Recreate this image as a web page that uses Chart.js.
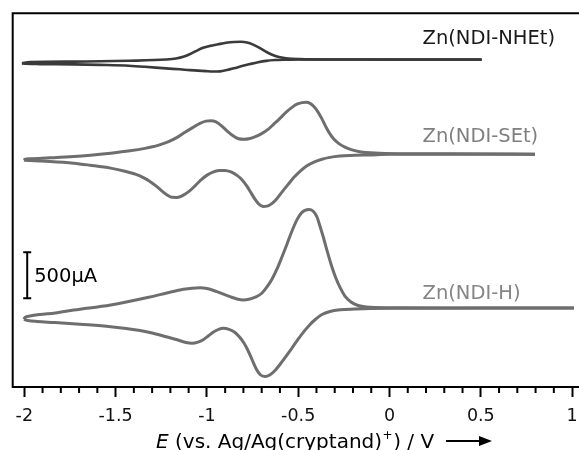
<!DOCTYPE html>
<html>
<head>
<meta charset="utf-8">
<script src="https://cdn.jsdelivr.net/npm/chart.js@4.4.1/dist/chart.umd.min.js"></script>
<style>
  html, body { margin: 0; padding: 0; background: #fff; overflow: hidden; }
  #wrap { position: absolute; left: 0; top: 0; width: 640px; height: 450px; }
</style>
</head>
<body>
<div id="wrap"><canvas id="cv"></canvas></div>
<script>
const FONT = "'DejaVu Sans', sans-serif";

// potential E (V) and current I (µA)
// each loop: cathodic sweep (right -> left), then anodic sweep back (left -> right)
const hCathE = [1.010, 0.496, 0.058, -0.107, -0.189, -0.271, -0.326, -0.370, -0.403, -0.435, -0.468, -0.501, -0.534, -0.567, -0.600, -0.627, -0.654, -0.682, -0.709, -0.731, -0.753, -0.775, -0.797, -0.819, -0.846, -0.879, -0.910, -0.936, -0.964, -0.991, -1.018, -1.049, -1.082, -1.120, -1.158, -1.224, -1.312, -1.366, -1.527, -1.695, -1.832, -1.930, -1.980, -2.002];
const hCathI = [0, 0, -3, -5, -11, -20, -38, -71, -120, -179, -255, -342, -435, -527, -614, -679, -726, -745, -723, -658, -560, -462, -381, -321, -266, -232, -221, -232, -261, -302, -342, -372, -384, -373, -348, -312, -266, -245, -203, -177, -158, -147, -136, -123];
const hAnE = [-1.996, -1.969, -1.914, -1.830, -1.729, -1.527, -1.312, -1.220, -1.129, -1.038, -0.999, -0.946, -0.873, -0.835, -0.801, -0.764, -0.731, -0.698, -0.671, -0.643, -0.616, -0.589, -0.561, -0.534, -0.507, -0.485, -0.463, -0.441, -0.419, -0.397, -0.381, -0.361, -0.340, -0.318, -0.296, -0.271, -0.244, -0.211, -0.172, -0.107, 0.058, 0.496, 1.010];
const hAnI = [-103, -87, -71, -54, -22, 33, 120, 163, 204, 221, 212, 177, 123, 98, 87, 98, 120, 163, 228, 315, 424, 554, 696, 837, 957, 1027, 1060, 1071, 1054, 989, 891, 761, 609, 462, 337, 223, 130, 65, 27, 8, 2, 0, 0];

const setCathE = [0.797, 0.331, 0.003, -0.107, -0.216, -0.271, -0.326, -0.370, -0.414, -0.452, -0.490, -0.523, -0.555, -0.588, -0.616, -0.643, -0.671, -0.692, -0.714, -0.736, -0.758, -0.780, -0.807, -0.835, -0.868, -0.901, -0.934, -0.967, -0.999, -1.032, -1.065, -1.098, -1.131, -1.163, -1.191, -1.218, -1.246, -1.279, -1.312, -1.345, -1.388, -1.449, -1.527, -1.640, -1.729, -1.859, -1.969, -2.002];
const setCathI = [-3, -3, -5, -11, -17, -24, -38, -58, -90, -130, -190, -255, -332, -413, -484, -538, -568, -571, -549, -495, -424, -353, -283, -234, -196, -180, -182, -199, -231, -283, -348, -408, -451, -473, -472, -446, -405, -348, -299, -261, -223, -188, -155, -123, -101, -82, -73, -68];
const setAnE = [-1.998, -1.969, -1.859, -1.729, -1.527, -1.421, -1.339, -1.268, -1.213, -1.163, -1.120, -1.076, -1.038, -1.005, -0.978, -0.950, -0.923, -0.890, -0.857, -0.827, -0.797, -0.764, -0.731, -0.698, -0.665, -0.635, -0.600, -0.567, -0.534, -0.507, -0.479, -0.457, -0.435, -0.414, -0.392, -0.370, -0.348, -0.326, -0.304, -0.277, -0.244, -0.205, -0.162, -0.079, 0.058, 0.331, 0.797];
const setAnI = [-60, -52, -43, -29, 8, 33, 60, 92, 130, 179, 234, 288, 332, 356, 361, 348, 310, 250, 196, 165, 159, 168, 190, 223, 266, 321, 386, 451, 505, 540, 557, 560, 549, 516, 457, 380, 293, 217, 158, 111, 73, 43, 24, 9, 2, 0, -3];

const nhCathE = [0.505, 0.058, -0.326, -0.490, -0.572, -0.627, -0.676, -0.720, -0.764, -0.808, -0.852, -0.890, -0.928, -0.967, -1.005, -1.049, -1.093, -1.147, -1.224, -1.339, -1.427, -1.586, -1.729, -1.914, -1.990, -2.013];
const nhCathI = [-1, -1, 1, 2, -1, -5, -14, -29, -49, -71, -95, -114, -128, -130, -126, -120, -115, -106, -96, -78, -67, -58, -52, -49, -46, -41];
const nhAnE = [-1.969, -1.729, -1.427, -1.224, -1.169, -1.125, -1.087, -1.054, -1.021, -0.983, -0.939, -0.895, -0.852, -0.813, -0.780, -0.747, -0.714, -0.682, -0.649, -0.611, -0.567, -0.490, -0.315, 0.058, 0.505];
const nhAnI = [-27, -22, -13, 0, 11, 33, 65, 98, 128, 149, 166, 182, 191, 193, 185, 163, 130, 92, 58, 30, 14, 5, 1, 0, 0];

const curveNames = ["Zn(NDI-NHEt)", "Zn(NDI-SEt)", "Zn(NDI-H)"];
const xTickLabels = ["-2", "-1.5", "-1", "-0.5", "0", "0.5", "1"];
const scaleBarValue = 500; // µA

// vertical stacking of the three curves (µA)
const offsets = { nh: 2700, set: 1675, h: 0 };

// returns [cathodic branch, anodic branch], the anodic one starting at the turning point
function branches(eA, iA, eB, iB, off) {
  const a = eA.map((e, k) => ({ x: e, y: iA[k] + off }));
  const b = eB.map((e, k) => ({ x: e, y: iB[k] + off }));
  b.unshift(a[a.length - 1]);
  return [a, b];
}

function isMajor(v) {
  return Math.abs(v * 2 - Math.round(v * 2)) < 1e-6;
}

function tickText(v) {
  const s = String(Number(v.toFixed(1)));
  return xTickLabels.includes(s) ? s : "";
}

const decor = {
  id: "decor",
  afterDraw(chart) {
    const { ctx, chartArea: a, scales } = chart;
    const x = scales.x, y = scales.y;
    ctx.save();

    // frame
    ctx.strokeStyle = "#000";
    ctx.lineWidth = 2;
    ctx.lineCap = "square";
    ctx.beginPath();
    ctx.moveTo(a.right, a.bottom);
    ctx.lineTo(a.left, a.bottom);
    ctx.lineTo(a.left, a.top);
    ctx.lineTo(a.right, a.top);
    ctx.lineTo(a.right, a.bottom);
    ctx.stroke();

    // minor ticks
    ctx.lineCap = "butt";
    ctx.beginPath();
    x.ticks.forEach(t => {
      if (isMajor(t.value)) return;
      const px = x.getPixelForValue(t.value);
      ctx.moveTo(px, a.bottom);
      ctx.lineTo(px, a.bottom + 6);
    });
    ctx.stroke();

    // scale bar
    const bx = x.getPixelForValue(-1.984);
    const b0 = y.getPixelForValue(105);
    const b1 = y.getPixelForValue(105 + scaleBarValue);
    ctx.beginPath();
    ctx.moveTo(bx, b0); ctx.lineTo(bx, b1);
    ctx.moveTo(bx - 4, b0); ctx.lineTo(bx + 4, b0);
    ctx.moveTo(bx - 4, b1); ctx.lineTo(bx + 4, b1);
    ctx.stroke();
    ctx.fillStyle = "#000";
    ctx.font = "19.5px " + FONT;
    ctx.textAlign = "left";
    ctx.textBaseline = "alphabetic";
    ctx.fillText(scaleBarValue + "µA", bx + 7, (b0 + b1) / 2 + 7);

    // curve labels
    const lx = x.getPixelForValue(0.181);
    const labelColors = ["#1a1a1a", "#7f7f7f", "#858585"];
    const labelVals = [2946, 1880, 179];
    curveNames.forEach((name, k) => {
      ctx.fillStyle = labelColors[k];
      ctx.fillText(name, lx, y.getPixelForValue(labelVals[k]) + 7);
    });

    // axis title
    const base = 447.5;
    let tx = 156;
    ctx.fillStyle = "#000";
    ctx.font = "italic 20px " + FONT;
    ctx.fillText("E", tx, base);
    tx += ctx.measureText("E").width;
    ctx.font = "20px " + FONT;
    const part1 = " (vs. Ag/Ag(cryptand)";
    ctx.fillText(part1, tx, base);
    tx += ctx.measureText(part1).width;
    ctx.font = "12px " + FONT;
    ctx.fillText("+", tx + 0.5, base - 9);
    tx += ctx.measureText("+").width + 1;
    ctx.font = "20px " + FONT;
    ctx.fillText(") / V", tx, base);

    // arrow
    const ay = 441;
    ctx.beginPath();
    ctx.moveTo(446, ay);
    ctx.lineTo(481, ay);
    ctx.stroke();
    ctx.beginPath();
    ctx.moveTo(492, ay);
    ctx.lineTo(479, ay - 5);
    ctx.lineTo(479, ay + 5);
    ctx.closePath();
    ctx.fill();

    ctx.restore();
  }
};

const hB = branches(hCathE, hCathI, hAnE, hAnI, offsets.h);
const setB = branches(setCathE, setCathI, setAnE, setAnI, offsets.set);
const nhB = branches(nhCathE, nhCathI, nhAnE, nhAnI, offsets.nh);

function ds(label, data, color, width) {
  return {
    label, data,
    borderColor: color,
    borderWidth: width,
    showLine: true,
    cubicInterpolationMode: "monotone",
    pointRadius: 0,
    pointHoverRadius: 0,
    fill: false
  };
}

new Chart(document.getElementById("cv"), {
  type: "scatter",
  data: {
    datasets: [
      ds(curveNames[2], hB[0], "#6e6e6e", 3),
      ds(curveNames[2], hB[1], "#6e6e6e", 3),
      ds(curveNames[1], setB[0], "#6e6e6e", 3),
      ds(curveNames[1], setB[1], "#6e6e6e", 3),
      ds(curveNames[0], nhB[0], "#3a3a3a", 2.6),
      ds(curveNames[0], nhB[1], "#3a3a3a", 2.6)
    ]
  },
  options: {
    responsive: true,
    maintainAspectRatio: false,
    animation: false,
    events: [],
    layout: { padding: { left: 12.7, top: 13.3, right: 10, bottom: 0 } },
    plugins: {
      legend: { display: false },
      tooltip: { enabled: false }
    },
    scales: {
      x: {
        type: "linear",
        min: -2.0635,
        max: 1.3171,
        border: { display: false },
        grid: {
          drawOnChartArea: false,
          drawTicks: true,
          tickLength: 10,
          tickWidth: 2,
          tickColor: c => (c.tick && isMajor(c.tick.value)) ? "#000" : "rgba(0,0,0,0)"
        },
        ticks: {
          stepSize: 0.1,
          includeBounds: false,
          autoSkip: false,
          maxRotation: 0,
          padding: 9,
          color: "#111",
          font: { family: FONT, size: 17.5 },
          callback: v => tickText(v)
        },
        afterFit: s => { s.height = 63; }
      },
      y: {
        type: "linear",
        display: false,
        min: -859,
        max: 3203
      }
    }
  },
  plugins: [decor]
});
</script>
</body>
</html>
